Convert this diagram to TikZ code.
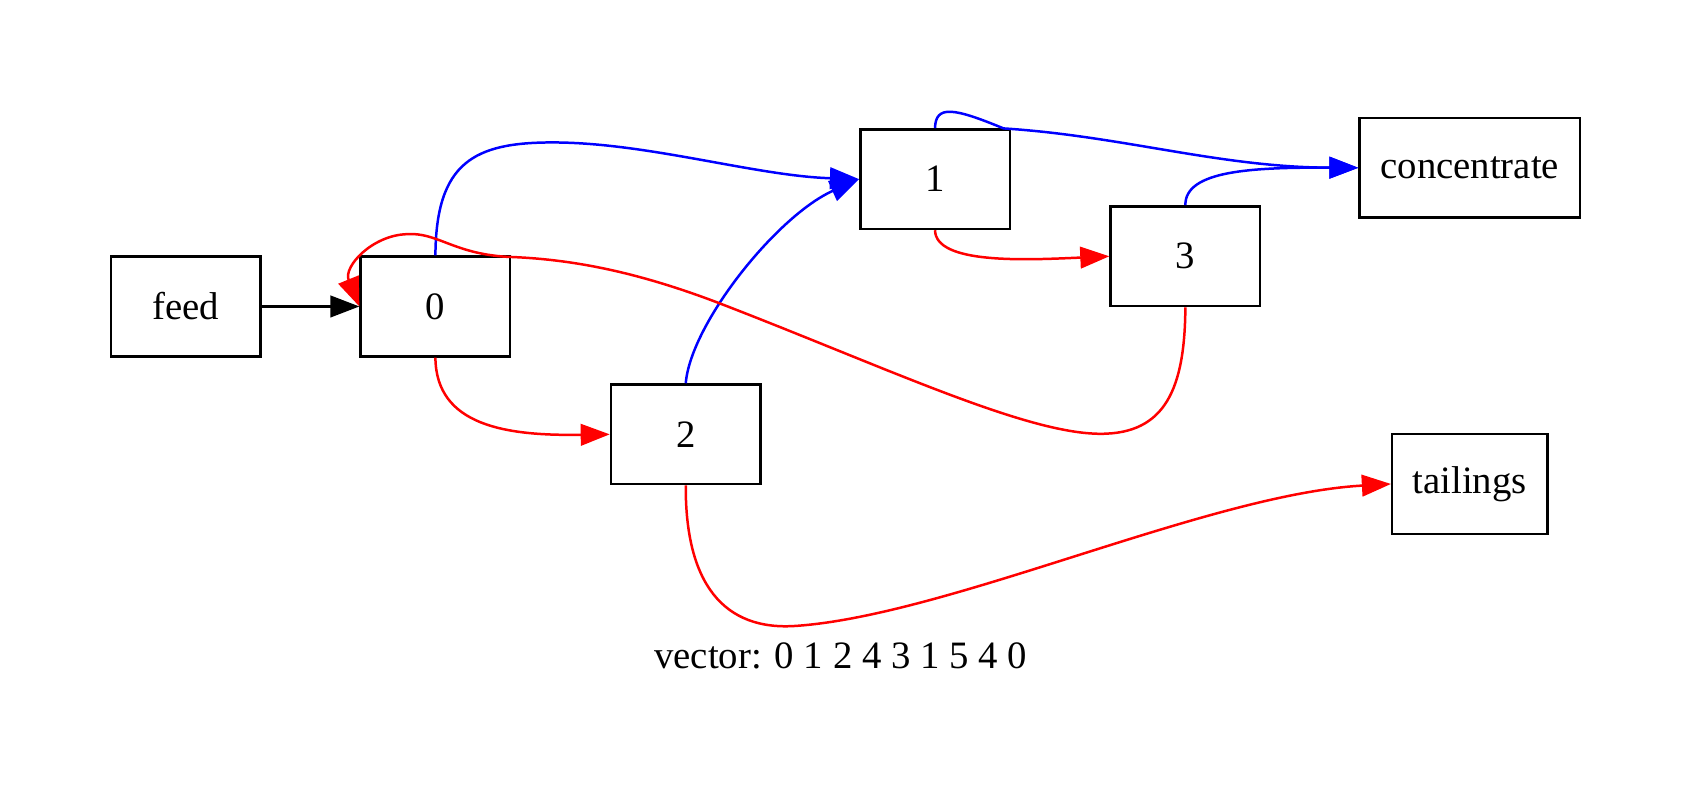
\documentclass[tikz,border=0pt]{standalone}
\usepackage{fontspec}
\setmainfont{Liberation Serif}
\usetikzlibrary{arrows.meta}
\begin{document}
\begin{tikzpicture}[x=0.3897pt,y=-0.3897pt,
  box/.style={draw,line width=0.9pt,minimum height=36pt,minimum width=54pt,
    inner sep=0pt,font=\fontsize{14}{16}\selectfont},
  flow/.style={line width=0.9pt,-{Triangle[length=10.5pt,width=7.8pt]}},
  good/.style={flow,draw=blue,-{Triangle[length=10.5pt,width=7.8pt,fill=blue]}},
  bad/.style={flow,draw=red,-{Triangle[length=10.5pt,width=7.8pt,fill=red]}}]
\useasboundingbox (0,0) rectangle (1568,744);

% units
\node[box] (feed) at (172,284) {feed};
\node[box] (n0) at (403.5,284) {0};
\node[box] (n1) at (866.5,166) {1};
\node[box] (n2) at (635.5,402.5) {2};
\node[box] (n3) at (1098.5,237.5) {3};
\node[box,minimum width=79.5pt] (conc) at (1362,155.5) {concentrate};
\node[box,minimum width=56pt] (tail) at (1362,448.5) {tailings};

% feed stream
\draw[flow] (feed) -- (n0);

% concentrate streams (blue)
\draw[good] (n0.north) .. controls (404,150) and (440,132) .. (512,132)
  .. controls (600,132) and (700,163) .. (n1.west);
\draw[good] (n2.north) .. controls (640,300) and (720,200) .. (n1.west);
\draw[good] (n1.north) .. controls (867,97) and (884,100) .. (930,119)
  .. controls (1040,126) and (1130,155) .. (conc.west);
\draw[good] (n3.north) .. controls (1098,158) and (1160,155) .. (conc.west);

% tailings streams (red)
\draw[bad] (n0.south) .. controls (404,395) and (470,404) .. (n2.west);
\draw[bad] (n1.south) .. controls (867,245) and (950,241) .. (n3.west);
\draw[bad] (n3.south) .. controls (1098,360) and (1080,402) .. (1020,402)
  .. controls (950,402) and (820,340) .. (664,280)
  .. controls (590,252) and (530,240) .. (470,238)
  .. controls (420,235) and (405,215) .. (377,217)
  .. controls (345,218) and (318,247) .. (n0.west);
\draw[bad] (n2.south) .. controls (635,540) and (670,585) .. (738,580)
  .. controls (880,570) and (1120,458) .. (tail.west);

% caption
\node[font=\fontsize{14}{16}\selectfont] (cap) at (779,608) {vector: 0 1 2 4 3 1 5 4 0};
\end{tikzpicture}
\end{document}
